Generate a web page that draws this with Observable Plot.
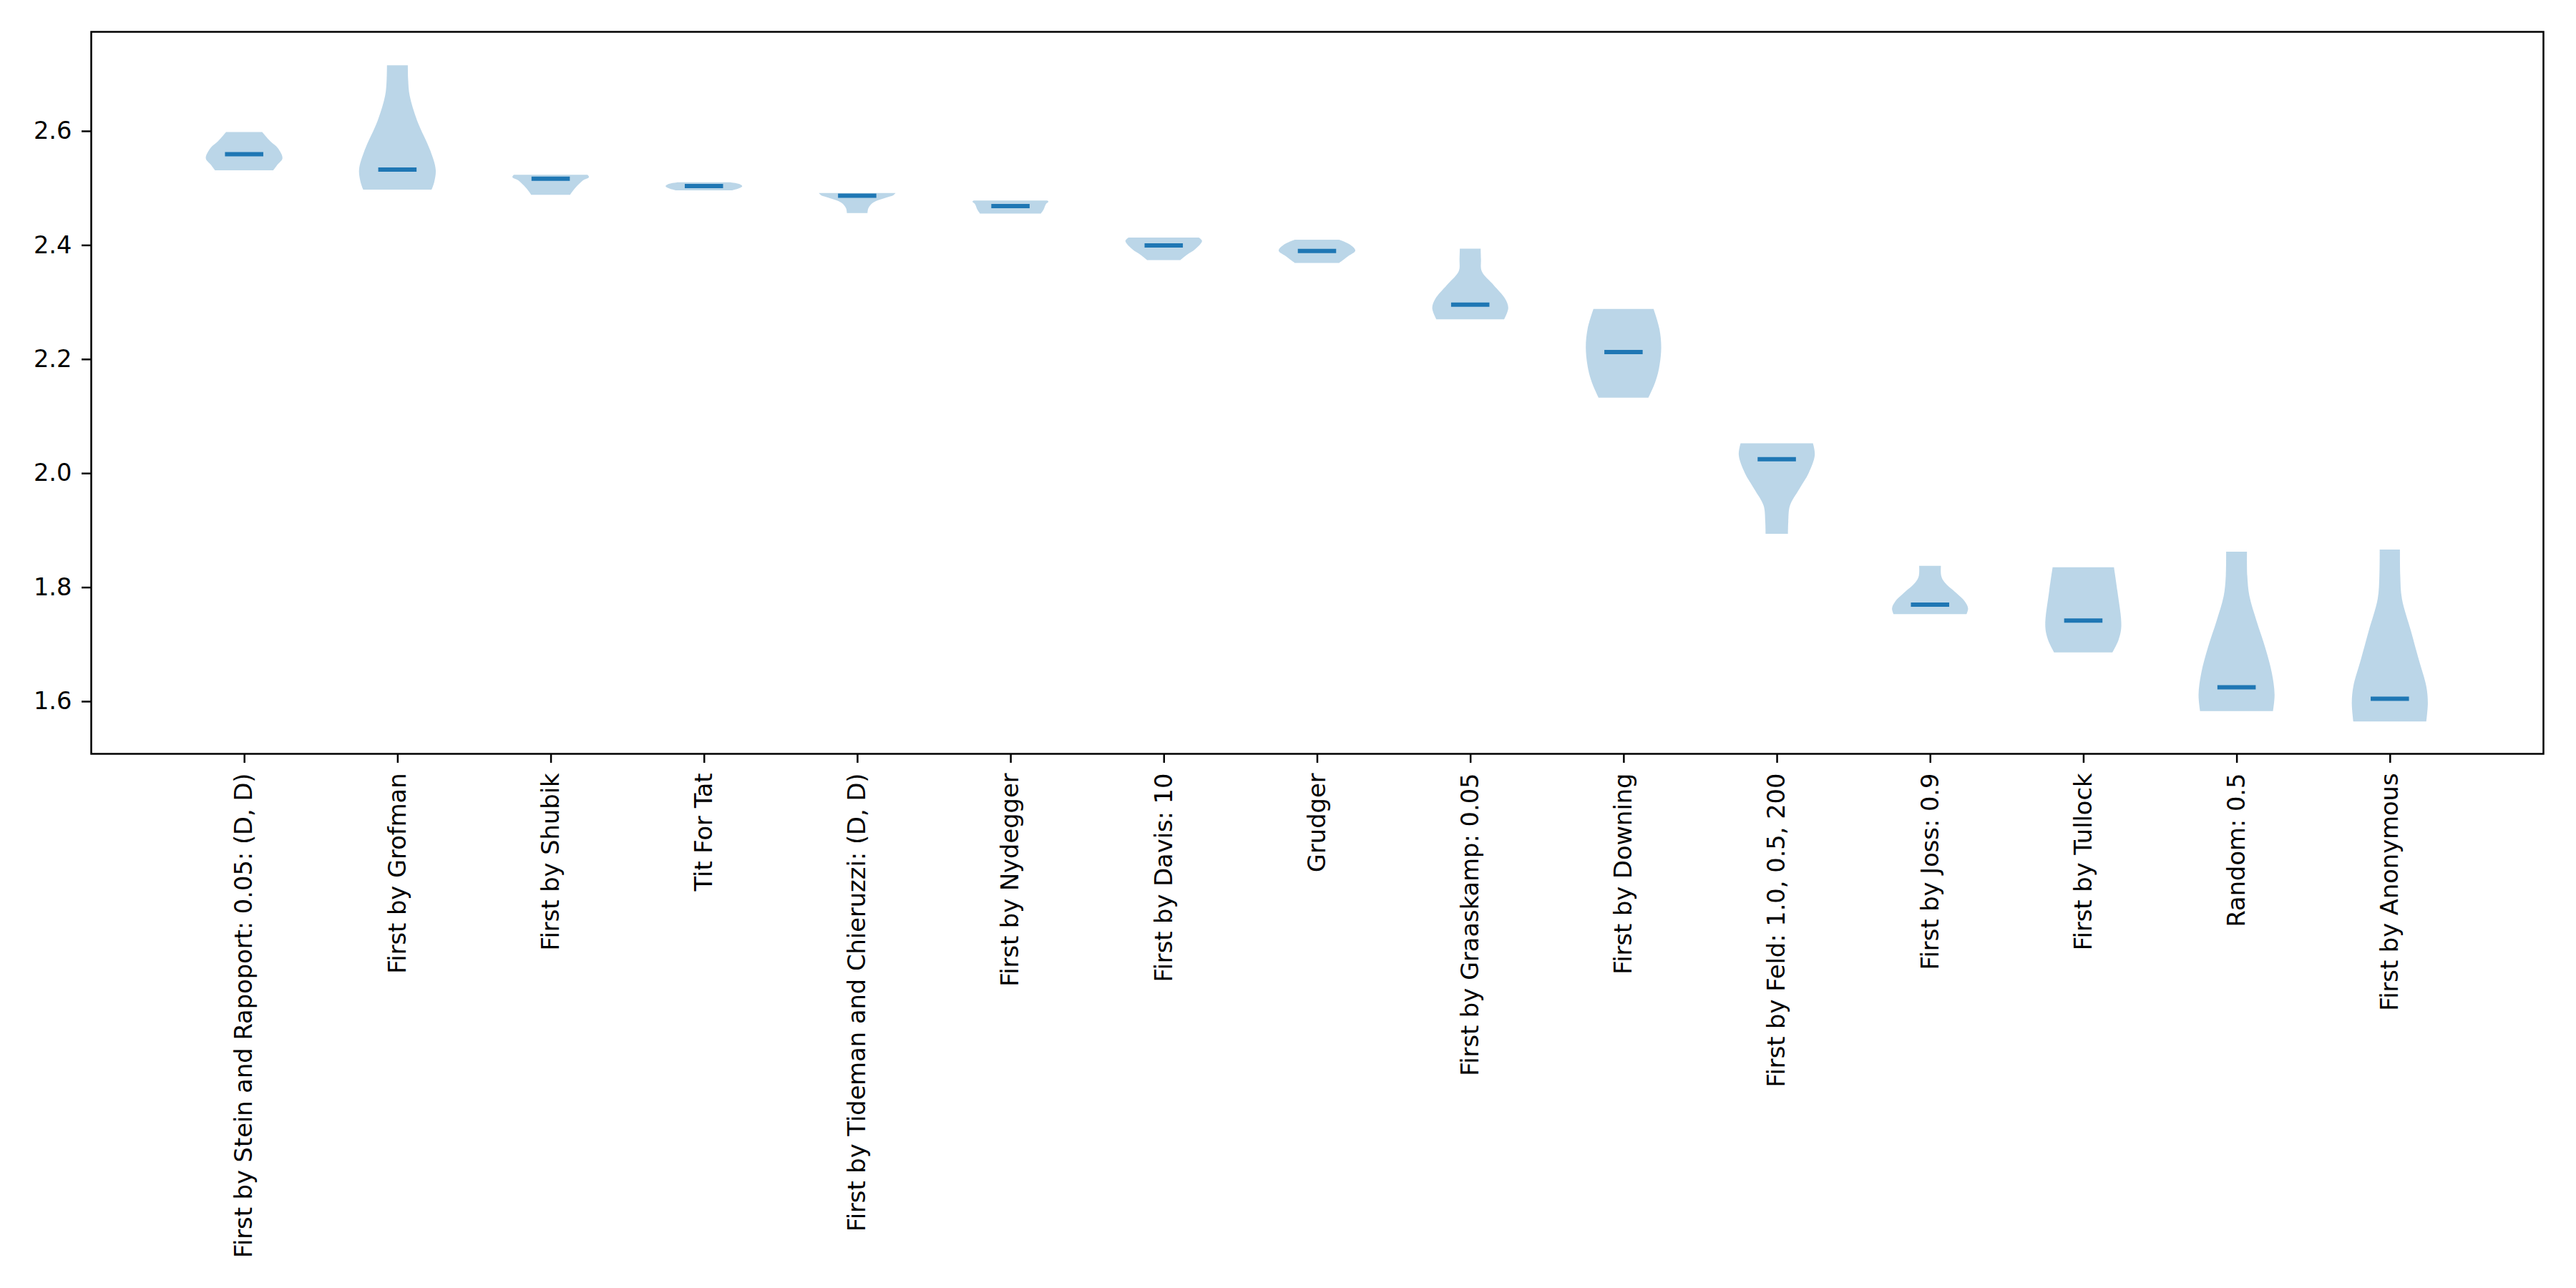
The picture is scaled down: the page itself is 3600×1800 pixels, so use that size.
<!DOCTYPE html>
<html><head><meta charset="utf-8">
<script src="https://cdn.jsdelivr.net/npm/d3@7"></script>
<script src="https://cdn.jsdelivr.net/npm/@observablehq/plot@0.6"></script>
<style>html,body{margin:0;padding:0;background:#fff;} #chart svg{display:block}</style>
</head><body><div id="chart"></div>
<script>
const strategies = [
  "First by Stein and Rapoport: 0.05: (D, D)",
  "First by Grofman",
  "First by Shubik",
  "Tit For Tat",
  "First by Tideman and Chieruzzi: (D, D)",
  "First by Nydegger",
  "First by Davis: 10",
  "Grudger",
  "First by Graaskamp: 0.05",
  "First by Downing",
  "First by Feld: 1.0, 0.5, 200",
  "First by Joss: 0.9",
  "First by Tullock",
  "Random: 0.5",
  "First by Anonymous"
];
const medians = [2.560, 2.533, 2.517, 2.504, 2.487, 2.469, 2.400, 2.390, 2.296, 2.213, 2.025, 1.770, 1.742, 1.625, 1.605];
// violin outline: value levels (top to bottom) and half widths
const violinY = [
  [2.598, 2.582, 2.570, 2.552, 2.541, 2.531],
  [2.715, 2.690, 2.662, 2.618, 2.566, 2.532, 2.510, 2.497],
  [2.523, 2.519, 2.513, 2.498, 2.488],
  [2.510, 2.507, 2.503, 2.4995, 2.496],
  [2.491, 2.487, 2.484, 2.4767, 2.472, 2.464, 2.456],
  [2.478, 2.476, 2.472, 2.462, 2.455],
  [2.413, 2.407, 2.3926, 2.383, 2.3734],
  [2.4094, 2.400, 2.3902, 2.3807, 2.3686],
  [2.3936, 2.375, 2.354, 2.330, 2.306, 2.2895, 2.2697],
  [2.288, 2.2534, 2.2198, 2.1814, 2.158, 2.1324],
  [2.0524, 2.0318, 2.0006, 1.9718, 1.943, 1.9142, 1.8936],
  [1.8373, 1.820, 1.8085, 1.7893, 1.7749, 1.7629, 1.7528],
  [1.8349, 1.7941, 1.7317, 1.7076, 1.6856],
  [1.8622, 1.820, 1.7844, 1.7413, 1.6933, 1.650, 1.6117, 1.5828],
  [1.8661, 1.820, 1.7797, 1.7221, 1.674, 1.6261, 1.5972, 1.5646]
];
const violinHalfWidth = [
  [0.118, 0.17, 0.22, 0.25, 0.218, 0.19],
  [0.068, 0.07, 0.08, 0.129, 0.214, 0.25, 0.24, 0.223],
  [0.24, 0.25, 0.21, 0.154, 0.127],
  [0.17, 0.23, 0.25, 0.23, 0.186],
  [0.25, 0.235, 0.2, 0.12, 0.093, 0.072, 0.067],
  [0.24, 0.248, 0.232, 0.216, 0.198],
  [0.23, 0.25, 0.205, 0.152, 0.107],
  [0.145, 0.22, 0.25, 0.205, 0.145],
  [0.068, 0.07, 0.075, 0.152, 0.227, 0.248, 0.221],
  [0.196, 0.234, 0.246, 0.23, 0.205, 0.163],
  [0.236, 0.248, 0.209, 0.146, 0.086, 0.075, 0.073],
  [0.071, 0.073, 0.095, 0.173, 0.227, 0.248, 0.238],
  [0.2, 0.222, 0.248, 0.23, 0.19],
  [0.068, 0.07, 0.084, 0.13, 0.188, 0.23, 0.248, 0.238],
  [0.066, 0.068, 0.079, 0.139, 0.188, 0.238, 0.248, 0.238]
];
const yTicks = [1.6, 1.8, 2.0, 2.2, 2.4, 2.6];

const positions = strategies.map((_, i) => i + 1);
const shapeRows = strategies.flatMap((name, i) =>
  violinY[i].map((y, j) => ({name, pos: i + 1, y, w: violinHalfWidth[i][j]})));
const medianRows = strategies.map((name, i) => ({name, pos: i + 1, median: medians[i]}));

const chart = Plot.plot({
  width: 3600, height: 1800,
  marginLeft: 127, marginRight: 46, marginTop: 44, marginBottom: 747,
  style: {fontFamily: "DejaVu Sans", fontSize: "33.7px", background: "#fff", color: "#000"},
  x: {domain: [0, 16], label: null},
  y: {domain: [1.5084, 2.7744], label: null},
  marks: [
    Plot.areaX(shapeRows, {
      y: "y", x1: d => d.pos - d.w, x2: d => d.pos + d.w, z: "name",
      fill: "#1f77b4", fillOpacity: 0.3, curve: "catmull-rom"
    }),
    Plot.ruleY(medianRows, {
      y: "median", x1: d => d.pos - 0.125, x2: d => d.pos + 0.125,
      stroke: "#1f77b4", strokeWidth: 6
    }),
    Plot.axisY({ticks: yTicks, tickFormat: d3.format(".1f"), tickSize: 13, tickPadding: 14, strokeWidth: 2.5, label: null, fontSize: 33.7}),
    Plot.axisX({ticks: positions, tickFormat: d => strategies[d - 1], tickRotate: -90, tickSize: 13, tickPadding: 14, strokeWidth: 2.5, label: null, fontSize: 33.7}),
    Plot.frame({stroke: "#000", strokeWidth: 2.5})
  ]
});
document.getElementById("chart").appendChild(chart);
</script>
</body></html>
